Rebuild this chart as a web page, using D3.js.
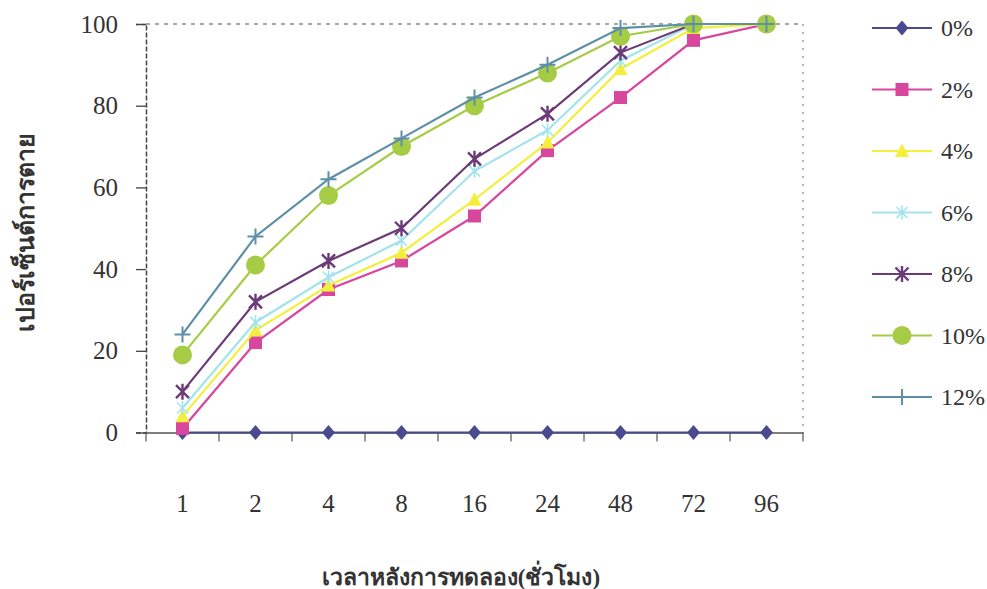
<!DOCTYPE html>
<html><head><meta charset="utf-8">
<script src="https://cdn.jsdelivr.net/npm/d3@7"></script>
<style>body{margin:0;background:#fff}</style>
</head><body><svg id="c" width="987" height="589"></svg>
<script>
const categories = ["1","2","4","8","16","24","48","72","96"];
const seriesNames = ["0%","2%","4%","6%","8%","10%","12%"];
const s0  = [0,0,0,0,0,0,0,0,0];
const s2  = [1,22,35,42,53,69,82,96,100];
const s4  = [4,25,36,44,57,71,89,99,100];
const s6  = [6,27,38,47,64,74,91,100,100];
const s8  = [10,32,42,50,67,78,93,100,100];
const s10 = [19,41,58,70,80,88,97,100,100];
const s12 = [24,48,62,72,82,90,99,100,100];
const yTicks = [0,20,40,60,80,100];
const xTitle = "เวลาหลังการทดลอง(ชั่วโมง)";
const yTitle = "เปอร์เซ็นต์การตาย";

const colors = ["#4b4a8e","#d8469d","#f3ef3c","#a3e4ec","#6b3b79","#a6cc46","#5e8fa8"];
const markers = ["diamond","square","triangle","star","asterisk","circle","plus"];
const values = [s0,s2,s4,s6,s8,s10,s12];

const svg = d3.select("#c");
const L = 146, R = 803, T = 24, B = 432.5;
const x = d3.scaleBand().domain(categories).range([L, R]);
const y = d3.scaleLinear().domain([0, 100]).range([B, T]);
const cx = c => x(c) + x.bandwidth() / 2;
const serif = "'Times New Roman','Liberation Serif','DejaVu Serif',serif";

// plot border (top dashed, right dotted)
svg.append("line").attr("x1", L).attr("x2", R).attr("y1", T).attr("y2", T)
  .attr("stroke", "#8a8a8a").attr("stroke-width", 1.5).attr("stroke-dasharray", "4,5");
svg.append("line").attr("x1", R).attr("x2", R).attr("y1", T).attr("y2", B)
  .attr("stroke", "#8a8a8a").attr("stroke-width", 1.2).attr("stroke-dasharray", "2,6");

// y axis
const ya = svg.append("g").attr("transform", `translate(${L},0)`)
  .call(d3.axisLeft(y).tickValues(yTicks).tickSize(10).tickPadding(18));
ya.select(".domain").attr("stroke", "#444").attr("stroke-width", 1.5).attr("stroke-dasharray", "5,2");
ya.selectAll(".tick line").attr("stroke", "#444").attr("stroke-width", 1.3);
ya.selectAll(".tick text").attr("font-family", serif).attr("font-size", 25).attr("fill", "#333");

// x axis
const xa = svg.append("g").attr("transform", `translate(0,${B})`)
  .call(d3.axisBottom(x).tickSize(0).tickPadding(62));
xa.select(".domain").attr("stroke", "#555").attr("stroke-width", 1.5);
xa.selectAll(".tick text").attr("font-family", serif).attr("font-size", 25).attr("fill", "#333");
const bounds = categories.map(c => x(c)).concat([R]);
svg.append("g").selectAll("line").data(bounds).join("line")
  .attr("x1", d => d).attr("x2", d => d).attr("y1", B).attr("y2", B + 9)
  .attr("stroke", "#555").attr("stroke-width", 1.2);

// titles
svg.append("text").attr("x", 461).attr("y", 585).attr("text-anchor", "middle")
  .attr("font-family", serif).attr("font-weight", "bold").attr("font-size", 23).attr("fill", "#333")
  .text(xTitle);
svg.append("text").attr("transform", "translate(34,232) rotate(-90)").attr("text-anchor", "middle")
  .attr("font-family", serif).attr("font-weight", "bold").attr("font-size", 25).attr("fill", "#333")
  .text(yTitle);

function drawMarker(g, type, color, px, py) {
  const t = `translate(${px},${py})`;
  if (type === "diamond") {
    g.append("path").attr("d", "M0,-7.5L6.5,0L0,7.5L-6.5,0Z").attr("transform", t).attr("fill", color);
  } else if (type === "square") {
    g.append("path").attr("d", "M-6.5,-6.5H6.5V6.5H-6.5Z").attr("transform", t).attr("fill", color);
  } else if (type === "triangle") {
    g.append("path").attr("d", "M0,-7.5L7,6L-7,6Z").attr("transform", t).attr("fill", color);
  } else if (type === "circle") {
    g.append("circle").attr("r", 9.5).attr("transform", t).attr("fill", color);
  } else if (type === "asterisk" || type === "star") {
    const r = type === "asterisk" ? 6.5 : 5.5;
    const w = type === "asterisk" ? 2.4 : 1.6;
    const p = `M${-r},${-r}L${r},${r}M${-r},${r}L${r},${-r}M0,${-r - 1.5}L0,${r + 1.5}`;
    g.append("path").attr("d", p).attr("transform", t)
      .attr("stroke", color).attr("stroke-width", w).attr("fill", "none");
  } else if (type === "plus") {
    const r = 8;
    g.append("path").attr("d", `M${-r},0L${r},0M0,${-r}L0,${r}`).attr("transform", t)
      .attr("stroke", color).attr("stroke-width", 2).attr("fill", "none");
  }
}

const line = d3.line().x((d, i) => cx(categories[i])).y(d => y(d));
values.forEach((vals, si) => {
  const g = svg.append("g");
  g.append("path").datum(vals).attr("d", line).attr("fill", "none")
    .attr("stroke", colors[si]).attr("stroke-width", 2.2);
  vals.forEach((v, i) => drawMarker(g, markers[si], colors[si], cx(categories[i]), y(v)));
});

// legend
const legY = d3.scalePoint().domain(seriesNames).range([28, 397]);
seriesNames.forEach((n, si) => {
  const g = svg.append("g");
  const ly = legY(n);
  g.append("line").attr("x1", 872).attr("x2", 932).attr("y1", ly).attr("y2", ly)
    .attr("stroke", colors[si]).attr("stroke-width", 2.2);
  drawMarker(g, markers[si], colors[si], 902, ly);
  g.append("text").attr("x", 941).attr("y", ly + 8).attr("font-family", serif)
    .attr("font-size", 24).attr("fill", "#333").text(n);
});
</script></body></html>
